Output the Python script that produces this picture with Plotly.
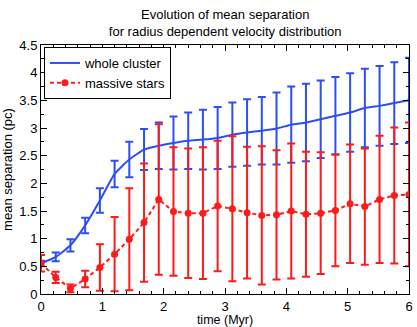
import plotly.graph_objects as go

# time (Myr)
time = [0.0, 0.24, 0.48, 0.72, 0.96, 1.2, 1.44, 1.68, 1.92, 2.16, 2.4, 2.64, 2.88,
        3.12, 3.36, 3.6, 3.84, 4.08, 4.32, 4.56, 4.8, 5.04, 5.28, 5.52, 5.76, 6.0]

# whole cluster
whole_mean = [0.55, 0.67, 0.88, 1.24, 1.69, 2.17, 2.43, 2.61, 2.68, 2.73, 2.77, 2.79, 2.82,
              2.88, 2.92, 2.95, 2.99, 3.06, 3.10, 3.16, 3.22, 3.28, 3.36, 3.40, 3.45, 3.50]
whole_err = [0.05, 0.08, 0.11, 0.14, 0.22, 0.24, 0.32, 0.37, 0.42, 0.48, 0.51, 0.54, 0.56,
             0.58, 0.60, 0.61, 0.65, 0.69, 0.70, 0.70, 0.70, 0.71, 0.71, 0.72, 0.74, 0.77]

# massive stars
massive_mean = [0.555, 0.30, 0.10, 0.27, 0.48, 0.72, 0.99, 1.29, 1.71, 1.49, 1.46, 1.46, 1.59,
                1.54, 1.47, 1.42, 1.43, 1.50, 1.44, 1.46, 1.51, 1.63, 1.58, 1.71, 1.78, 1.80]
massive_err = [0.15, 0.10, 0.07, 0.15, 0.42, 0.67, 0.92, 1.07, 1.36, 1.16, 1.17, 1.19, 1.18,
               1.31, 1.19, 1.25, 1.17, 1.22, 1.13, 1.10, 1.01, 1.07, 1.05, 1.15, 1.23, 1.30]

blue = "#2d4ef5"
red = "#ff1a1a"
font = "Liberation Sans, Arial, sans-serif"

fig = go.Figure()
fig.add_trace(go.Scatter(
    x=time, y=whole_mean, mode="lines", name="whole cluster",
    line=dict(color=blue, width=2, shape="spline", smoothing=0.5),
    error_y=dict(type="data", array=whole_err, color=blue, thickness=2, width=4),
))
fig.add_trace(go.Scatter(
    x=time, y=massive_mean, mode="lines+markers", name="massive stars",
    line=dict(color=red, width=2, dash="4px,3px"),
    marker=dict(color=red, size=7),
    error_y=dict(type="data", array=massive_err, color=red, thickness=2, width=4),
))

axis_common = dict(
    showline=True, linecolor="black", linewidth=1, mirror="ticks",
    ticks="inside", ticklen=6, tickcolor="black", showgrid=False, zeroline=False,
    automargin=False,
    tickfont=dict(size=13, color="black", family=font),
)

fig.update_xaxes(
    range=[0, 6], dtick=1, tick0=0,
    title=dict(text="time (Myr)", font=dict(size=12.5, color="black", family=font), standoff=3),
    minor=dict(dtick=0.2, ticks="inside", ticklen=3, tickcolor="black"),
    **axis_common,
)
fig.update_yaxes(
    range=[0, 4.5], dtick=0.5, tick0=0,
    title=dict(text="mean separation (pc)", font=dict(size=13, color="black", family=font), standoff=6),
    minor=dict(dtick=0.25, ticks="inside", ticklen=3, tickcolor="black"),
    **axis_common,
)

fig.update_layout(
    width=417, height=327,
    margin=dict(l=41, r=8, t=45, b=33),
    paper_bgcolor="white", plot_bgcolor="white",
    font=dict(family=font, size=13, color="black"),
    title=dict(
        text="Evolution of mean separation<br>for radius dependent velocity distribution",
        x=0.54, xanchor="center", yref="container", y=0.942, yanchor="top",
        font=dict(size=13, color="black", family=font),
    ),
    showlegend=True,
    legend=dict(
        x=0.008, y=0.992, xanchor="left", yanchor="top",
        bordercolor="black", borderwidth=1, bgcolor="white",
        font=dict(size=13, color="black", family=font),
        tracegroupgap=0, itemwidth=30,
    ),
)

fig.write_html("out.html", config={"displayModeBar": False},
               post_script="document.body.style.margin='0';")
